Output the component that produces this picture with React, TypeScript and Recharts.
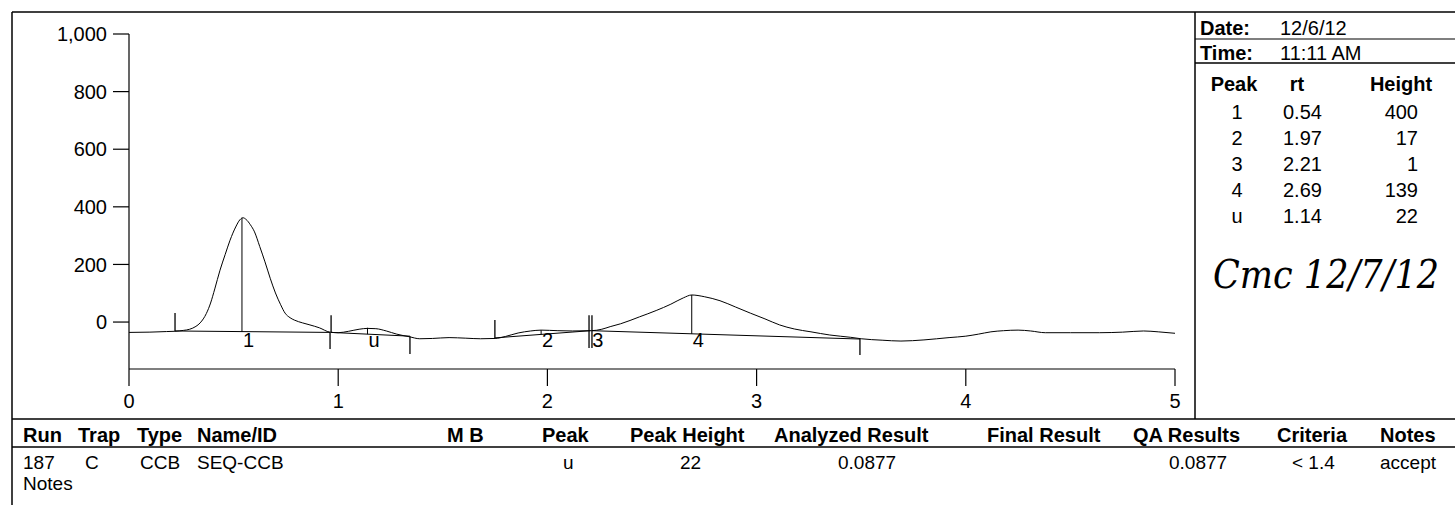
import React from 'react';
import { ComposedChart, Line, XAxis, YAxis, ReferenceLine, Scatter } from 'recharts';

// ---- chromatogram trace (retention time in min, detector response) ----
const retentionTimes = [
  0.0, 0.1, 0.18, 0.22, 0.26, 0.29, 0.32, 0.34, 0.37, 0.39, 0.41, 0.435, 0.46, 0.483, 0.51, 0.53, 0.545,
  0.56, 0.58, 0.6, 0.625, 0.65, 0.675, 0.7, 0.725, 0.746, 0.77, 0.79, 0.83, 0.865, 0.91, 0.96, 1.0,
  1.05, 1.1, 1.14, 1.18, 1.23, 1.28, 1.34, 1.39, 1.45, 1.53, 1.61, 1.68, 1.75, 1.8, 1.86, 1.92, 1.97,
  2.05, 2.12, 2.21, 2.26, 2.3, 2.35, 2.44, 2.52, 2.59, 2.65, 2.69, 2.75, 2.825, 2.9, 2.97, 3.04, 3.11,
  3.18, 3.26, 3.35, 3.45, 3.5, 3.6, 3.69, 3.8, 3.92, 4.0, 4.06, 4.12, 4.18, 4.25, 4.31, 4.38, 4.5,
  4.64, 4.75, 4.85, 4.92, 5.0,
];
const detectorSignal = [
  -36, -35, -33, -32, -29, -25, -15, -3, 30, 66, 115, 180, 235, 284, 330, 355, 362,
  356, 338, 313, 262, 209, 152, 101, 60, 31, 15, 7, -3, -10, -20, -35, -37,
  -32, -25, -22, -23, -31, -42, -51, -58, -57, -54, -56, -58, -57, -50, -38, -31, -28,
  -30, -31, -30, -25, -16, -6, 18, 40, 62, 84, 94, 88, 74, 52, 31, 11, -10,
  -24, -34, -45, -53, -58, -63, -66, -62, -54, -49, -42, -34, -30, -28, -31, -37, -37,
  -37, -35, -31, -34, -39,
];

// ---- peak table ----
const peakNames = ['1', '2', '3', '4', 'u'];
const peakRt = [0.54, 1.97, 2.21, 2.69, 1.14];
const peakHeights = [400, 17, 1, 139, 22];

// ---- integration: baselines ----
const baselineStartT = [0.22, 0.966, 1.749, 2.213];
const baselineStartY = [-31, -36, -55, -30];
const baselineEndT = [0.961, 1.343, 2.205, 3.494];
const baselineEndY = [-36, -49, -30, -59];

// integration event marks (vertical ticks): time, from, to
const markT = [0.22, 0.961, 0.966, 1.343, 1.749, 2.199, 2.213, 3.494];
const markFrom = [-31, -36, -36, -49, -55, 24, 24, -59];
const markTo = [31, -94, 24, -111, 7, -90, -90, -114];

// peak drop lines: time, apex, baseline
const dropT = [0.54, 1.14, 1.97, 2.69];
const dropTop = [362, -20, -28, 94];
const dropBottom = [-34, -42, -43, -41];
const peakLabelLevel = -62;

const yTicks = [0, 200, 400, 600, 800, 1000];
const xTicks = [0, 1, 2, 3, 4, 5];

// ---- header info & result table ----
const dateLabel = 'Date:';
const dateValue = '12/6/12';
const timeLabel = 'Time:';
const timeValue = '11:11 AM';
const peakTableHeader = ['Peak', 'rt', 'Height'];
const signature = 'Cmc 12/7/12';
const resultColumns = ['Run', 'Trap', 'Type', 'Name/ID', 'M B', 'Peak', 'Peak Height', 'Analyzed Result', 'Final Result', 'QA Results', 'Criteria', 'Notes'];
const resultRow = ['187', 'C', 'CCB', 'SEQ-CCB', '', 'u', '22', '0.0877', '', '0.0877', '< 1.4', 'accept'];
const notesLabel = 'Notes';

const traceData = retentionTimes.map((t, i) => ({ x: t, y: detectorSignal[i] }));
const labelData = peakNames.map((n, i) => ({ x: peakRt[i], y: peakLabelLevel, name: n }));

const FONT = '"Liberation Sans", Arial, Helvetica, sans-serif';
const FS = 20;

const headerX = [23, 78, 137, 197, 447, 542, 630, 774, 987, 1133, 1277, 1380];
const rowX = [23, 85, 140, 197, 447, 563, 680, 838, 987, 1169, 1292, 1380];

const PeakLabel = (props: any) => {
  const { cx, cy, payload } = props;
  if (cx == null || cy == null) return null;
  return (
    <text x={cx + 1} y={cy + 7} fontFamily={FONT} fontSize={FS} fill="#000">
      {payload.name}
    </text>
  );
};

export default function App() {
  return (
    <div style={{ position: 'absolute', left: 0, top: 0, width: 1455, height: 505, background: '#fff' }}>
      <div style={{ position: 'absolute', left: 0, top: 0 }}>
        <ComposedChart
          width={1455}
          height={505}
          margin={{ top: 34, right: 280, bottom: 106, left: 0 }}
        >
          <XAxis
            type="number"
            dataKey="x"
            domain={[0, 5]}
            ticks={xTicks}
            allowDataOverflow
            height={30}
            tickSize={17}
            tickMargin={8}
            axisLine={{ stroke: '#000', strokeWidth: 1.2 }}
            tickLine={{ stroke: '#000', strokeWidth: 1.2 }}
            tick={{ fill: '#000', fontSize: FS, fontFamily: FONT }}
          />
          <YAxis
            type="number"
            dataKey="y"
            domain={[-163, 1000]}
            ticks={yTicks}
            allowDataOverflow
            width={129}
            tickSize={16}
            tickMargin={6}
            axisLine={{ stroke: '#000', strokeWidth: 1.2 }}
            tickLine={{ stroke: '#000', strokeWidth: 1.2 }}
            tick={{ fill: '#000', fontSize: FS, fontFamily: FONT }}
            tickFormatter={(v: number) => v.toLocaleString('en-US')}
          />
          <Line
            data={traceData}
            dataKey="y"
            type="monotone"
            stroke="#000"
            strokeWidth={1}
            dot={false}
            activeDot={false}
            isAnimationActive={false}
          />
          {baselineStartT.map((t, i) => (
            <ReferenceLine
              key={'b' + i}
              segment={[
                { x: t, y: baselineStartY[i] },
                { x: baselineEndT[i], y: baselineEndY[i] },
              ]}
              stroke="#000"
              strokeWidth={1}
              ifOverflow="visible"
            />
          ))}
          {markT.map((t, i) => (
            <ReferenceLine
              key={'m' + i}
              segment={[
                { x: t, y: markFrom[i] },
                { x: t, y: markTo[i] },
              ]}
              stroke="#000"
              strokeWidth={1.3}
              ifOverflow="visible"
            />
          ))}
          {dropT.map((t, i) => (
            <ReferenceLine
              key={'d' + i}
              segment={[
                { x: t, y: dropTop[i] },
                { x: t, y: dropBottom[i] },
              ]}
              stroke="#000"
              strokeWidth={1}
              ifOverflow="visible"
            />
          ))}
          <Scatter
            data={labelData}
            dataKey="y"
            shape={PeakLabel}
            isAnimationActive={false}
          />
        </ComposedChart>
      </div>
      <svg
        width={1455}
        height={505}
        style={{ position: 'absolute', left: 0, top: 0, pointerEvents: 'none' }}
        fontFamily={FONT}
        fontSize={FS}
      >
        {/* frame */}
        <line x1={12} y1={12} x2={1455} y2={12} stroke="#000" strokeWidth={1.5} />
        <line x1={12} y1={12} x2={12} y2={505} stroke="#000" strokeWidth={1.5} />
        <line x1={1195} y1={12} x2={1195} y2={419} stroke="#000" strokeWidth={1.5} />
        <line x1={12} y1={419} x2={1455} y2={419} stroke="#000" strokeWidth={1.5} />
        <line x1={12} y1={447} x2={1455} y2={447} stroke="#000" strokeWidth={1.5} />
        <line x1={1195} y1={39} x2={1455} y2={39} stroke="#000" strokeWidth={1.2} />
        <line x1={1195} y1={63} x2={1455} y2={63} stroke="#000" strokeWidth={1.5} />

        {/* date / time */}
        <text x={1200} y={35} fontWeight="bold">{dateLabel}</text>
        <text x={1280} y={35}>{dateValue}</text>
        <text x={1200} y={60} fontWeight="bold">{timeLabel}</text>
        <text x={1280} y={60}>{timeValue}</text>

        {/* peak table */}
        <text x={1234} y={91} fontWeight="bold" textAnchor="middle">{peakTableHeader[0]}</text>
        <text x={1297} y={91} fontWeight="bold" textAnchor="middle">{peakTableHeader[1]}</text>
        <text x={1401} y={91} fontWeight="bold" textAnchor="middle">{peakTableHeader[2]}</text>
        {peakNames.map((n, i) => (
          <g key={'pt' + i}>
            <text x={1237} y={119 + i * 26} textAnchor="middle">{n}</text>
            <text x={1283} y={119 + i * 26}>{peakRt[i].toFixed(2)}</text>
            <text x={1418} y={119 + i * 26} textAnchor="end">{peakHeights[i]}</text>
          </g>
        ))}

        {/* signature */}
        <g transform="translate(1213,288) scale(1,1.25)">
          <text
            x={0}
            y={0}
            fontFamily='"DejaVu Serif", "Liberation Serif", serif'
            fontStyle="italic"
            fontSize={32}
            fontWeight={200}
            textLength={226}
            lengthAdjust="spacingAndGlyphs"
          >
            {signature}
          </text>
        </g>

        {/* result table */}
        {resultColumns.map((c, i) => (
          <text key={'h' + i} x={headerX[i]} y={442} fontWeight="bold">{c}</text>
        ))}
        {resultRow.map((v, i) => (
          <text key={'r' + i} x={rowX[i]} y={469} fontSize={19}>{v}</text>
        ))}
        <text x={23} y={490} fontSize={19}>{notesLabel}</text>
      </svg>
    </div>
  );
}
